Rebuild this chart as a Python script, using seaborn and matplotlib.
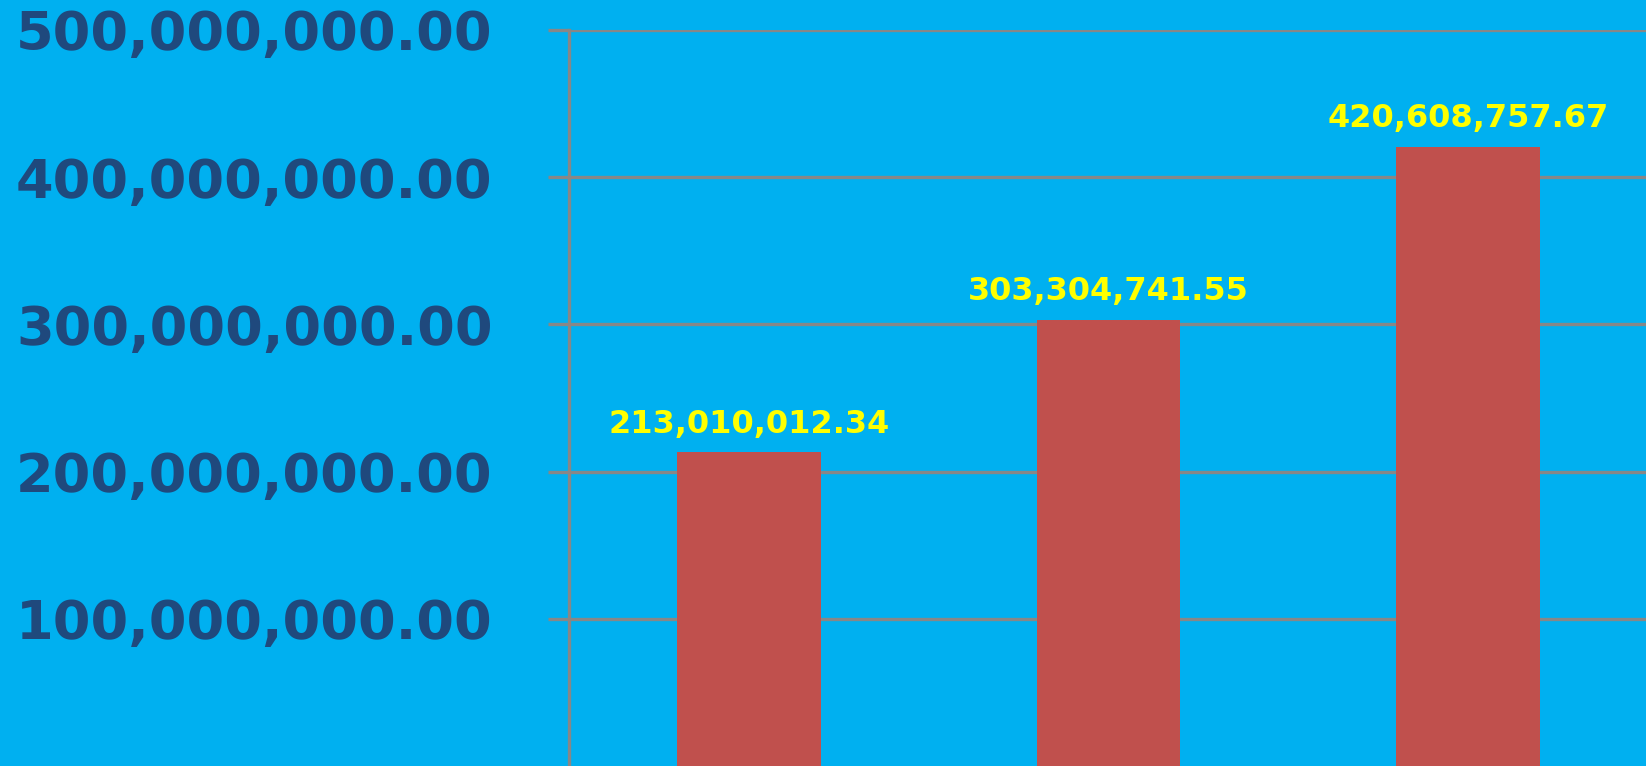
import matplotlib
matplotlib.use("Agg")
import matplotlib.pyplot as plt
import seaborn as sns
import pandas as pd

categories = ["Year 1", "Year 2", "Year 3"]
values = [213010012.34, 303304741.55, 420608757.67]
ytick_values = [100000000, 200000000, 300000000, 400000000, 500000000]

bg = "#00B0F0"
bar_color = "#C0504D"
grid_color = "#878787"
label_color = "#1F497D"

sns.set_theme(style="white")
plt.rcParams["font.family"] = ["DejaVu Sans"]

W, H = 1646, 766
fig = plt.figure(figsize=(W / 100, H / 100), dpi=100, facecolor=bg)
left = 569 / W
top = 1 - 30 / H
ax = fig.add_axes([left, 0.0, (W + 2) / W - left, top])
ax.set_facecolor(bg)

df = pd.DataFrame({"category": categories, "value": values})
sns.barplot(data=df, x="category", y="value", color=bar_color, width=0.4,
            saturation=1, linewidth=0, edgecolor=bar_color, ax=ax, zorder=3)

ax.set_xlim(-0.5, 2.5)
ax.set_ylim(0, 500000000)
ax.set_yticks(ytick_values)
ax.set_yticklabels([f"{v:,.2f}" for v in ytick_values], fontsize=39,
                   fontweight="bold", color=label_color)
ax.tick_params(axis="y", left=True, length=15, width=2.4, color=grid_color, pad=40)
ax.tick_params(axis="x", length=0, labelbottom=False)
ax.set_xlabel("")
ax.set_ylabel("")

ax.yaxis.grid(True, color=grid_color, linewidth=2.4, zorder=0)
ax.set_axisbelow(True)
for s in ["top", "right", "bottom"]:
    ax.spines[s].set_visible(False)
ax.spines["left"].set_color(grid_color)
ax.spines["left"].set_linewidth(2.4)

for c in ax.containers:
    ax.bar_label(c, labels=[f"{v:,.2f}" for v in values], padding=9,
                 fontsize=23, fontweight="bold", color="#FFFF00")

fig.savefig("out.png", dpi=100, facecolor=bg)
